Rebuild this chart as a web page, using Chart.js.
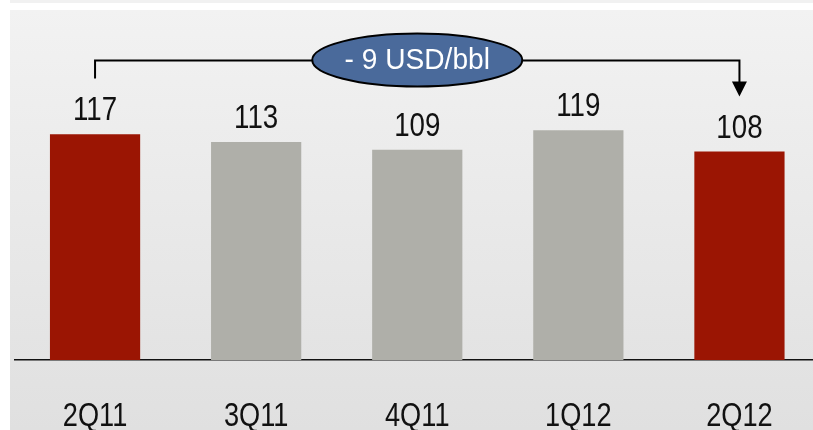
<!DOCTYPE html>
<html>
<head>
<meta charset="utf-8">
<script src="https://cdn.jsdelivr.net/npm/chart.js@4"></script>
<style>
  html, body { margin: 0; padding: 0; background: #fff; }
  #wrap { position: relative; width: 813px; height: 430px; overflow: hidden; background: #fff; }
  #strip { position: absolute; left: 10px; top: 0; width: 803px; height: 3px; background: #f1f1f1; }
  #panel { position: absolute; left: 10px; top: 10px; width: 803px; height: 420px;
           background: linear-gradient(#f2f2f2, #e0e0e0); }
  #chartBox { position: absolute; left: 0; top: 0; width: 830px; height: 430px; }
</style>
</head>
<body>
<div id="wrap">
  <div id="strip"></div>
  <div id="panel"></div>
  <div id="chartBox"><canvas id="chart" width="830" height="430"></canvas></div>
</div>
<script>
// quarters and oil price (USD/bbl)
const quarters = ["2Q11", "3Q11", "4Q11", "1Q12", "2Q12"];
const prices = [117, 113, 109, 119, 108];
const barColors = ["#9b1503", "#afafa9", "#afafa9", "#afafa9", "#9b1503"];
const changeLabel = "- 9 USD/bbl";

// the original uses a narrow font, so squeeze Liberation Sans a bit
function narrowText(ctx, text, x, y, size, squeeze) {
  ctx.save();
  ctx.translate(x, y);
  ctx.scale(squeeze, 1);
  ctx.font = size + "px 'Liberation Sans', Arial, sans-serif";
  ctx.fillText(text, 0, 0);
  ctx.restore();
}

const overlay = {
  id: "overlay",
  afterDatasetsDraw(chart) {
    const ctx = chart.ctx;
    const meta = chart.getDatasetMeta(0);
    const x = chart.scales.x;
    const area = chart.chartArea;

    ctx.save();
    ctx.fillStyle = "#111";
    ctx.textAlign = "center";
    ctx.textBaseline = "alphabetic";

    // values above the bars
    meta.data.forEach((bar, i) => {
      narrowText(ctx, String(prices[i]), bar.x, bar.y - 14, 33, 0.84);
    });

    // quarter labels under the axis
    x.getLabels().forEach((lbl, i) => {
      narrowText(ctx, lbl, x.getPixelForValue(i), area.bottom + 66, 34, 0.8);
    });

    // bracket from first to last quarter
    const x0 = x.getPixelForValue(0);
    const x1 = x.getPixelForValue(quarters.length - 1);
    const xm = x.getPixelForValue(2);
    const yLine = area.top + 48;
    ctx.strokeStyle = "#000";
    ctx.lineWidth = 2;
    ctx.beginPath();
    ctx.moveTo(x0, yLine + 18);
    ctx.lineTo(x0, yLine);
    ctx.lineTo(x1, yLine);
    ctx.lineTo(x1, yLine + 22);
    ctx.stroke();
    ctx.fillStyle = "#000";
    ctx.beginPath();
    ctx.moveTo(x1 - 7.5, yLine + 21);
    ctx.lineTo(x1 + 7.5, yLine + 21);
    ctx.lineTo(x1, yLine + 36);
    ctx.closePath();
    ctx.fill();

    // bubble
    ctx.beginPath();
    ctx.ellipse(xm, yLine - 0.5, 105, 26.5, 0, 0, Math.PI * 2);
    ctx.fillStyle = "#4a6a9b";
    ctx.fill();
    ctx.lineWidth = 2;
    ctx.stroke();
    ctx.fillStyle = "#fff";
    ctx.textBaseline = "middle";
    narrowText(ctx, changeLabel, xm, yLine, 29, 0.97);
    ctx.restore();
  }
};

new Chart(document.getElementById("chart"), {
  type: "bar",
  data: {
    labels: quarters,
    datasets: [{
      data: prices,
      backgroundColor: barColors,
      borderWidth: 0,
      categoryPercentage: 1,
      barPercentage: 0.56
    }]
  },
  options: {
    responsive: false,
    animation: false,
    layout: { padding: { left: 14.5, right: 10, top: 12.6, bottom: 0 } },
    plugins: { legend: { display: false }, tooltip: { enabled: false } },
    scales: {
      x: {
        grid: { display: false, drawTicks: false },
        border: { display: true, color: "#111", width: 1.5 },
        ticks: { display: false },
        afterFit(scale) { scale.height = 70; }
      },
      y: {
        display: false,
        min: 0,
        max: 180
      }
    }
  },
  plugins: [overlay]
});
</script>
</body>
</html>
